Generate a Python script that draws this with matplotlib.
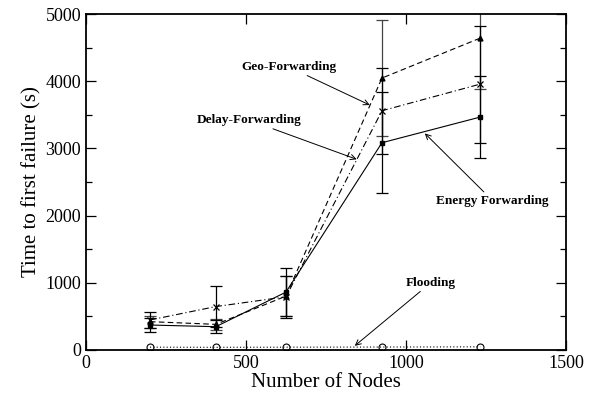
import matplotlib
matplotlib.use('Agg')
import matplotlib.pyplot as plt
from matplotlib.ticker import MultipleLocator

plt.rcParams['font.family'] = ['Liberation Serif', 'DejaVu Serif']

# Number of nodes per run
nodes = [200, 406, 625, 925, 1232]

geo = [420, 380, 800, 4048, 4643]
geo_err = [90, 80, 300, 860, 760]

delay = [445, 645, 790, 3561, 3958]
delay_err = [115, 310, 310, 640, 870]

energy = [370, 345, 860, 3085, 3467]
energy_err = [100, 100, 355, 750, 612]

flooding = [40, 38, 40, 42, 45]

fig = plt.figure(figsize=(5.97, 4.04), dpi=100)
ax = fig.add_axes([0.144, 0.134, 0.804, 0.831])

ebar = dict(capsize=4, elinewidth=0.9, capthick=0.9, clip_on=True)

ax.errorbar(nodes, geo, yerr=geo_err, color='black', ls=(0, (5, 3)), lw=0.8,
            marker='^', ms=3.5, ecolor='#444444', **ebar)
ax.errorbar(nodes, delay, yerr=delay_err, color='black', ls=(0, (6, 2.5, 1, 2.5)),
            lw=0.8, marker='x', ms=4, mew=0.9, ecolor='black', **ebar)
ax.errorbar(nodes, energy, yerr=energy_err, color='black', ls='-', lw=0.8,
            marker='s', ms=2.5, ecolor='black', **ebar)
ax.plot(nodes, flooding, color='black', ls=(0, (1, 2)), lw=0.8,
        marker='o', ms=5, mfc='none', mew=0.8)

ax.set_xlim(0, 1500)
ax.set_ylim(0, 5000)
ax.xaxis.set_major_locator(MultipleLocator(500))
ax.yaxis.set_major_locator(MultipleLocator(1000))
ax.yaxis.set_minor_locator(MultipleLocator(500))
ax.tick_params(which='both', direction='in', top=True, right=True,
               labelsize=13, width=0.9)
ax.tick_params(which='major', length=7)
ax.tick_params(which='minor', length=4)
for s in ax.spines.values():
    s.set_linewidth(1.3)

ax.set_xlabel('Number of Nodes', fontsize=15, labelpad=1)
ax.set_ylabel('Time to first failure (s)', fontsize=15, labelpad=3)

arrow = dict(arrowstyle='->', color='black', lw=0.7, shrinkA=0, shrinkB=0)
ax.annotate('Geo-Forwarding', xy=(887, 3646), xytext=(633, 4216),
            ha='center', va='center', fontsize=9.5, fontweight='bold',
            arrowprops=arrow)
ax.annotate('Delay-Forwarding', xy=(846, 2838), xytext=(509, 3423),
            ha='center', va='center', fontsize=9.5, fontweight='bold',
            arrowprops=arrow)
ax.annotate('Energy Forwarding', xy=(1059, 3224), xytext=(1271, 2222),
            ha='center', va='center', fontsize=9.5, fontweight='bold',
            arrowprops=arrow)
ax.annotate('Flooding', xy=(840, 60), xytext=(1078, 1001),
            ha='center', va='center', fontsize=9.5, fontweight='bold',
            arrowprops=arrow)

fig.savefig('out.png', dpi=100, facecolor='white')
